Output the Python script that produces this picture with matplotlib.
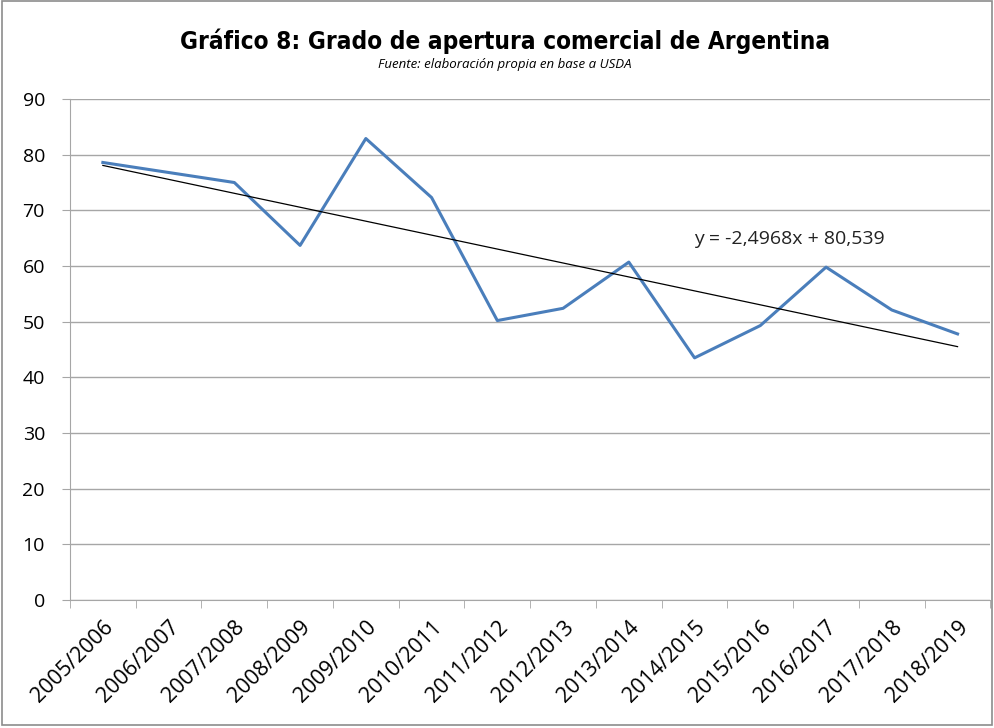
import numpy as np
import matplotlib
matplotlib.use("Agg")
import matplotlib.pyplot as plt
from matplotlib.patches import Rectangle

# data
campanas = ["2005/2006", "2006/2007", "2007/2008", "2008/2009", "2009/2010",
            "2010/2011", "2011/2012", "2012/2013", "2013/2014", "2014/2015",
            "2015/2016", "2016/2017", "2017/2018", "2018/2019"]
apertura = [78.6, 76.8, 75.0, 63.7, 82.9, 72.3, 50.2, 52.4, 60.7, 43.5,
            49.3, 59.8, 52.1, 47.8]
ecuacion = "y = -2,4968x + 80,539"
y_ticks = list(range(0, 91, 10))

plt.rcParams['font.family'] = ['Open Sans', 'DejaVu Sans']

fig = plt.figure(figsize=(9.94, 7.28), dpi=100)
ax = fig.add_axes([0.0704, 0.1758, 0.926, 0.6882])

x = np.arange(len(campanas))
ax.plot(x, apertura, color="#4A7EBB", lw=2.2, zorder=3)

# linear trend, as in the spreadsheet
pend, orde = np.polyfit(x + 1, apertura, 1)
ax.plot(x, pend * (x + 1) + orde, color="black", lw=0.9, zorder=4)
ax.text(0.678, 0.71, ecuacion, transform=ax.transAxes, fontsize=14,
        color="#222222")

ax.set_ylim(0, 90)
ax.set_xlim(-0.5, len(campanas) - 0.5)
ax.set_yticks(y_ticks)
ax.yaxis.grid(True, color="#A6A6A6", lw=1.0)
ax.set_axisbelow(True)

ax.set_xticks(x)
ax.set_xticklabels(campanas, rotation=45, ha="right", rotation_mode="anchor",
                   fontsize=15.5)
ax.tick_params(axis="x", length=0, pad=12)
ax.set_xticks(np.arange(-0.5, len(campanas), 1), minor=True)
ax.tick_params(axis="x", which="minor", length=6, color="#A6A6A6")
ax.tick_params(axis="y", labelsize=14, length=6, color="#A6A6A6", pad=12)

for s in ["top", "right"]:
    ax.spines[s].set_visible(False)
ax.spines["left"].set_color("#A6A6A6")
ax.spines["bottom"].set_color("#A6A6A6")

fig.text(0.508, 0.944, "Gráfico 8: Grado de apertura comercial de Argentina",
         ha="center", va="center", fontsize=17.5, fontweight="bold",
         family=["DejaVu Sans"], fontstretch="condensed")
fig.text(0.508, 0.912, "Fuente: elaboración propia en base a USDA",
         ha="center", va="center", fontsize=9.5, style="italic")

fig.patches.append(Rectangle((0.002, 0.004), 0.996, 0.994, transform=fig.transFigure,
                             fill=False, edgecolor="#8C8C8C", lw=1.2))

fig.savefig("out.png", dpi=100)
